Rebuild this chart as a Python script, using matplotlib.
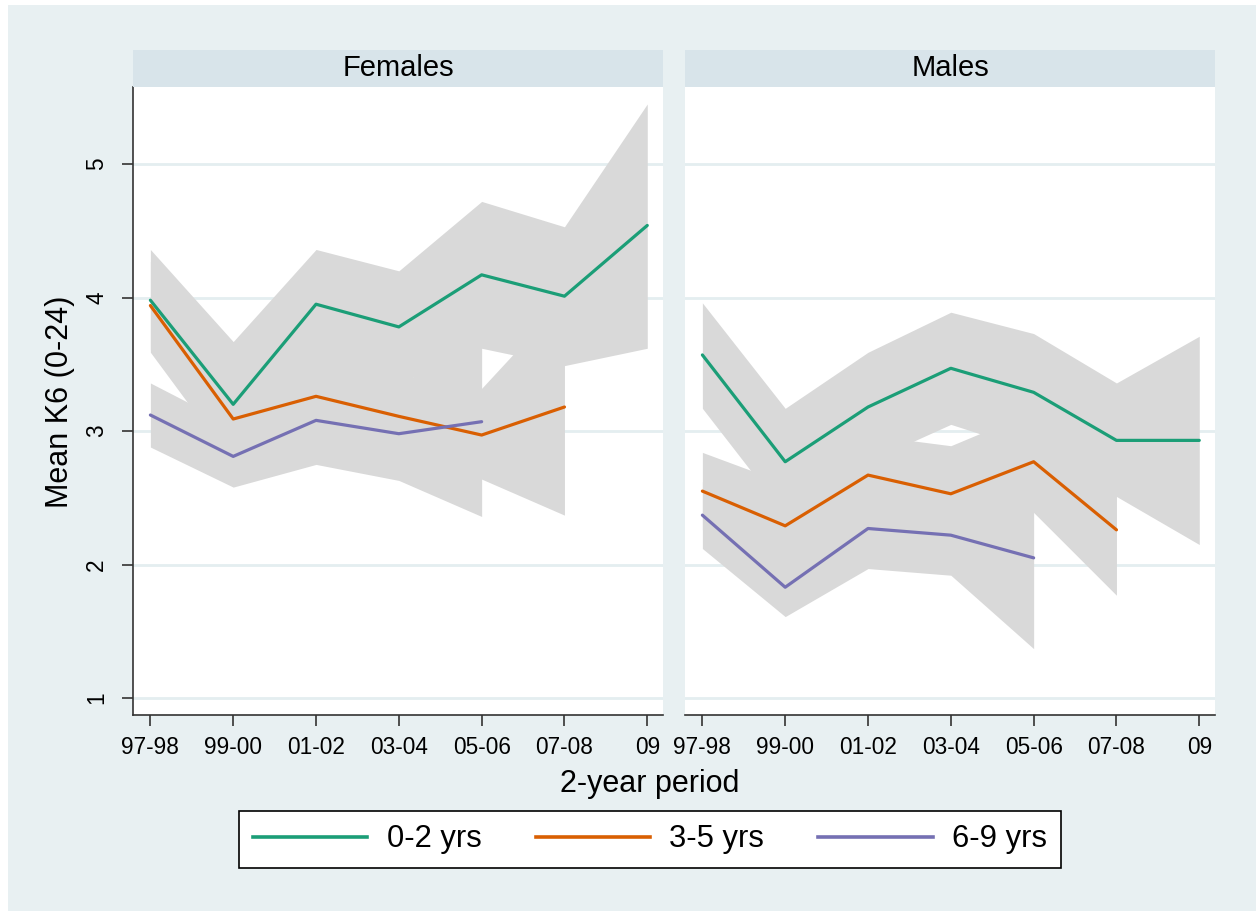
import numpy as np
import matplotlib
matplotlib.use("Agg")
import matplotlib.pyplot as plt
from matplotlib.patches import Rectangle
from matplotlib.lines import Line2D

plt.rcParams['font.family'] = ['Liberation Sans', 'DejaVu Sans']

periods = ['97-98', '99-00', '01-02', '03-04', '05-06', '07-08', '09']
groups = ['0-2 yrs', '3-5 yrs', '6-9 yrs']
colors = ['#1b9e77', '#d95f02', '#7570b3']

# females: mean K6 with 95% CI, by child age group
f_02 = [3.98, 3.20, 3.95, 3.78, 4.17, 4.01, 4.54]
f_02_lo = [3.59, 2.75, 3.54, 3.36, 3.62, 3.49, 3.62]
f_02_hi = [4.36, 3.67, 4.36, 4.20, 4.72, 4.53, 5.45]
f_35 = [3.94, 3.09, 3.26, 3.11, 2.97, 3.18]
f_35_lo = [3.61, 2.80, 2.95, 2.80, 2.64, 2.37]
f_35_hi = [4.27, 3.38, 3.57, 3.42, 3.32, 3.99]
f_69 = [3.12, 2.81, 3.08, 2.98, 3.07]
f_69_lo = [2.88, 2.58, 2.75, 2.63, 2.36]
f_69_hi = [3.36, 3.04, 3.41, 3.33, 3.78]

# males
m_02 = [3.57, 2.77, 3.18, 3.47, 3.29, 2.93, 2.93]
m_02_lo = [3.17, 2.37, 2.77, 3.05, 2.85, 2.51, 2.15]
m_02_hi = [3.96, 3.17, 3.59, 3.89, 3.73, 3.36, 3.71]
m_35 = [2.55, 2.29, 2.67, 2.53, 2.77, 2.26]
m_35_lo = [2.26, 1.97, 2.37, 2.17, 2.39, 1.77]
m_35_hi = [2.84, 2.61, 2.97, 2.89, 3.15, 2.75]
m_69 = [2.37, 1.83, 2.27, 2.22, 2.05]
m_69_lo = [2.12, 1.61, 1.97, 1.92, 1.37]
m_69_hi = [2.62, 2.05, 2.57, 2.52, 2.73]

panels = [
    ('Females', [(f_02, f_02_lo, f_02_hi), (f_35, f_35_lo, f_35_hi), (f_69, f_69_lo, f_69_hi)]),
    ('Males', [(m_02, m_02_lo, m_02_hi), (m_35, m_35_lo, m_35_hi), (m_69, m_69_lo, m_69_hi)]),
]

bg = '#e8f0f2'
strip = '#d8e4ea'
grid = '#e4eef0'
band = '#d9d9d9'
axcol = '#333333'

W, H = 1256, 911
fig = plt.figure(figsize=(W / 100, H / 100), dpi=100, facecolor='white')
fig.patches.append(Rectangle((8 / W, 0), 1 - 8 / W, 906 / H, transform=fig.transFigure,
                             facecolor=bg, edgecolor='none', zorder=-10))

lefts = [133, 685]
pw = 530
top, bottom = 87, 715
for i, (title, series) in enumerate(panels):
    ax = fig.add_axes([lefts[i] / W, 1 - bottom / H, pw / W, (bottom - top) / H])
    ax.set_facecolor('white')
    for vals, lo, hi in series:
        x = np.arange(len(vals))
        ax.fill_between(x, lo, hi, color=band, lw=0, zorder=1)
    for (vals, lo, hi), c in zip(series, colors):
        x = np.arange(len(vals))
        ax.plot(x, vals, color=c, lw=2.3, zorder=3, solid_capstyle='round')
    ax.set_xlim(-0.21, 6.19)
    ax.set_ylim(0.873, 5.577)
    ax.set_yticks([1, 2, 3, 4, 5])
    ax.set_xticks(range(len(periods)))
    ax.set_xticklabels(periods, fontsize=16.3)
    ax.set_axisbelow(True)
    ax.yaxis.grid(True, color=grid, lw=2)
    for s in ['top', 'right']:
        ax.spines[s].set_visible(False)
    ax.spines['bottom'].set_color(axcol)
    ax.spines['bottom'].set_linewidth(1.2)
    ax.tick_params(axis='x', length=8, width=1.2, color=axcol, pad=7)
    if i == 0:
        ax.spines['left'].set_color(axcol)
        ax.spines['left'].set_linewidth(1.2)
        ax.tick_params(axis='y', length=8, width=1.2, color=axcol, pad=10, labelsize=16.3)
        for t in ax.get_yticklabels():
            t.set_rotation(90)
            t.set_va('center')
    else:
        ax.spines['left'].set_visible(False)
        ax.tick_params(axis='y', left=False, labelleft=False)

    sax = fig.add_axes([lefts[i] / W, 1 - top / H, pw / W, 37 / H])
    sax.set_facecolor(strip)
    sax.set_xticks([])
    sax.set_yticks([])
    for s in sax.spines.values():
        s.set_visible(False)
    sax.text(0.5, 0.5, title, ha='center', va='center', fontsize=21, transform=sax.transAxes)

fig.text(60 / W, 1 - 402 / H, 'Mean K6 (0-24)', rotation=90, ha='center', va='center', fontsize=22)
fig.text(650 / W, 1 - 784 / H, '2-year period', ha='center', va='center', fontsize=22)

handles = [Line2D([0], [0], color=c, lw=2.6) for c in colors]
leg = fig.legend(handles, groups, loc='center', bbox_to_anchor=(650 / W, 1 - 839.5 / H), ncol=3,
                 fontsize=22.3, handlelength=3.7, handletextpad=0.62, columnspacing=1.75,
                 fancybox=False, framealpha=1, edgecolor='black', borderpad=0.45)
leg.get_frame().set_linewidth(1.2)

fig.savefig('out.png', dpi=100, facecolor='white')
